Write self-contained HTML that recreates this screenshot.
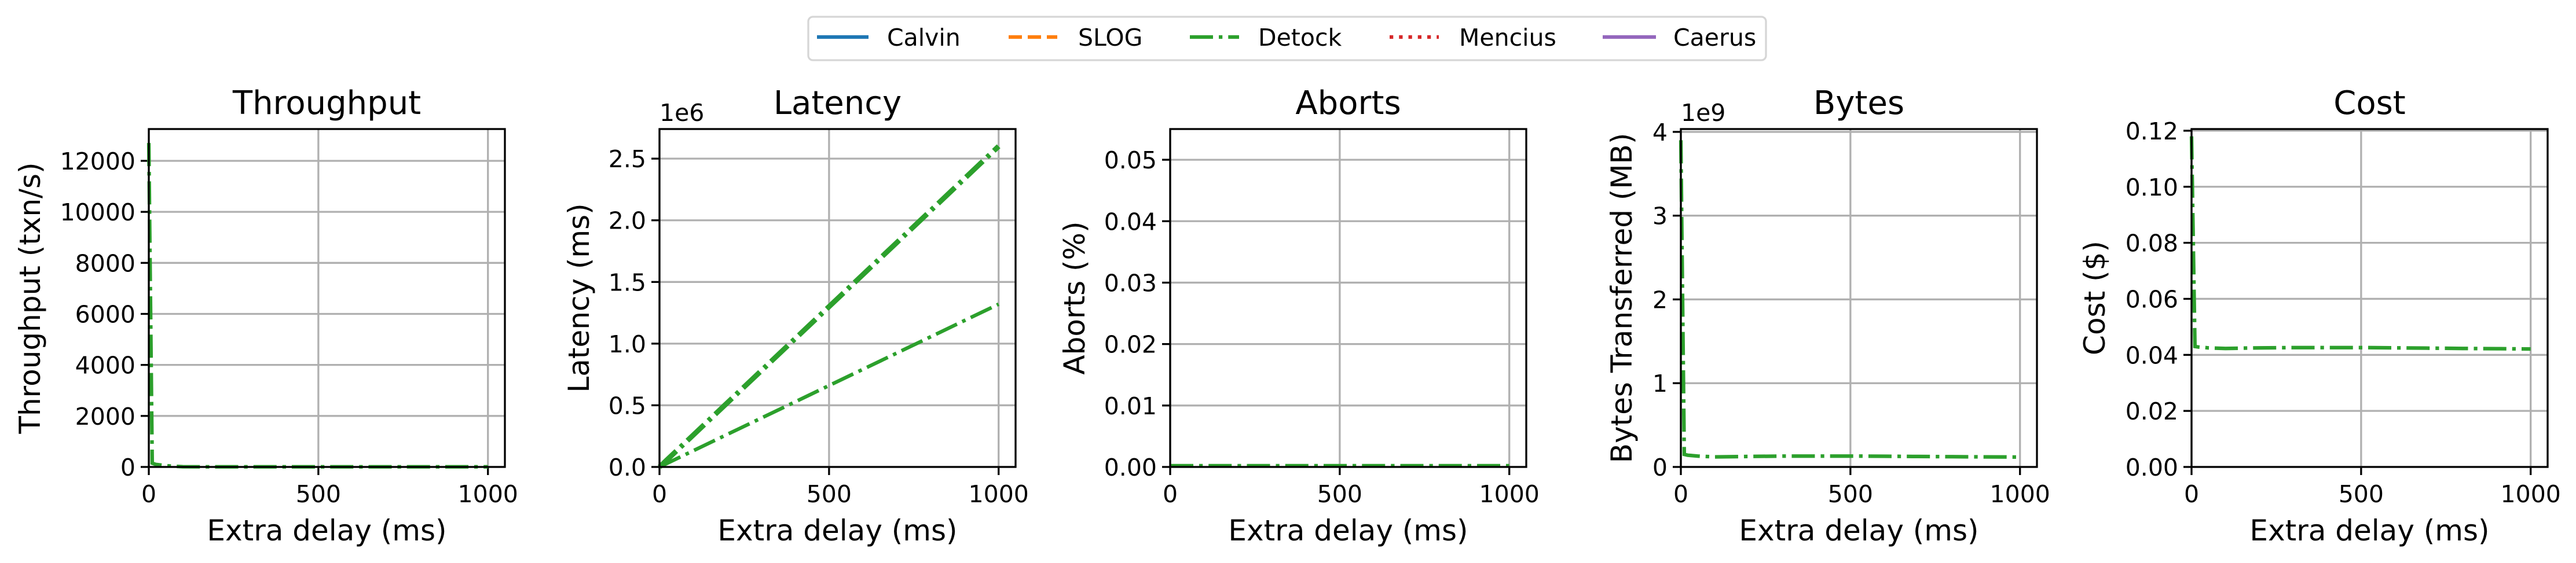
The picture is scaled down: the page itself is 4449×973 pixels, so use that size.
<!DOCTYPE html>
<html><head><meta charset="utf-8"><style>
html,body{margin:0;padding:0;background:#fff;}
svg{display:block;font-family:"DejaVu Sans","Liberation Sans",sans-serif;}
</style></head><body>
<svg id="fig" width="4449" height="973" viewBox="0 0 4449 973" xmlns="http://www.w3.org/2000/svg">
<g id="legend">
<rect x="1396" y="29" width="1654" height="75" rx="8" fill="#fff" stroke="#d6d6d6" stroke-width="3.3"/>
<g><line x1="1411" y1="64" x2="1500" y2="64" stroke="#1f77b4" stroke-width="6.25"/><text x="1532" y="79" font-size="41">Calvin</text></g>
<g><line x1="1742" y1="64" x2="1826" y2="64" stroke="#ff7f0e" stroke-width="6.25" stroke-dasharray="23 10"/><text x="1862" y="79" font-size="41">SLOG</text></g>
<g><line x1="2055" y1="64" x2="2140" y2="64" stroke="#2ca02c" stroke-width="6.25" stroke-dasharray="40 10 6.25 10"/><text x="2173" y="79" font-size="41">Detock</text></g>
<g><line x1="2400" y1="64" x2="2485" y2="64" stroke="#d62728" stroke-width="6.25" stroke-dasharray="6.25 10"/><text x="2520" y="79" font-size="41">Mencius</text></g>
<g><line x1="2768" y1="64" x2="2860" y2="64" stroke="#9467bd" stroke-width="6.25"/><text x="2890" y="79" font-size="41">Caerus</text></g>
</g>
</svg>
<script>
const xValues=[0,10,20,50,100,200,300,400,500,600,700,800,900,1000];
const xTicks=[0,500,1000];
const tputDetock=[12700,150,100,50,10,5,5,5,5,5,5,5,5,5];
const latDetockA=[0,26000,52000,130000,260000,520000,780000,1040000,1300000,1560000,1820000,2080000,2340000,2600000];
const latDetockB=[0,13200,26400,66000,132000,264000,396000,528000,660000,792000,924000,1056000,1188000,1320000];
const abortsDetock=[0.0002,0.0002,0.0002,0.0002,0.0002,0.0002,0.0002,0.0002,0.0002,0.0002,0.0002,0.0002,0.0002,0.0002];
const bytesDetock=[3.9e9,1.5e8,1.4e8,1.3e8,1.2e8,1.25e8,1.3e8,1.3e8,1.3e8,1.28e8,1.25e8,1.22e8,1.2e8,1.18e8];
const costDetock=[0.118,0.043,0.0428,0.0425,0.0423,0.0425,0.0426,0.0426,0.0426,0.0425,0.0424,0.0423,0.0422,0.0421];
const tputTicks=[0,2000,4000,6000,8000,10000,12000];
const latTicks=[0,0.5e6,1e6,1.5e6,2e6,2.5e6];
const abortTicks=[0,0.01,0.02,0.03,0.04,0.05];
const bytesTicks=[0,1e9,2e9,3e9,4e9];
const costTicks=[0,0.02,0.04,0.06,0.08,0.10,0.12];

const NS="http://www.w3.org/2000/svg";
const svg=document.getElementById('fig');
function mk(tag,attrs,parent,txt){const e=document.createElementNS(NS,tag);for(const k in attrs)e.setAttribute(k,attrs[k]);if(txt!==undefined)e.textContent=txt;parent.appendChild(e);return e;}
const panels=[
 {name:'throughput',title:'Throughput',ylabel:'Throughput (txn/s)',ymax:13247,ticks:tputTicks,fmt:v=>String(v),series:[tputDetock],widths:[6.25],loff:205},
 {name:'latency',title:'Latency',ylabel:'Latency (ms)',ymax:2.74e6,ticks:latTicks,fmt:v=>(v/1e6).toFixed(1),series:[latDetockA,latDetockB],widths:[9,6.25],loff:139,exp:'1e6'},
 {name:'aborts',title:'Aborts',ylabel:'Aborts (%)',ymax:0.055,ticks:abortTicks,fmt:v=>v.toFixed(2),series:[abortsDetock],widths:[6.25],loff:165},
 {name:'bytes',title:'Bytes',ylabel:'Bytes Transferred (MB)',ymax:4.034e9,ticks:bytesTicks,fmt:v=>String(v/1e9),series:[bytesDetock],widths:[6.25],loff:102,exp:'1e9'},
 {name:'cost',title:'Cost',ylabel:'Cost ($)',ymax:0.1206,ticks:costTicks,fmt:v=>v.toFixed(2),series:[costDetock],widths:[6.25],loff:167}
];
const T=223,B=807,W=615,XMAX=1050;
panels.forEach((p,i)=>{
 const L=257+882*i,R=L+W;
 const xs=v=>L+v/XMAX*W, ys=v=>B-v/p.ymax*(B-T);
 const g=mk('g',{},svg);
 
 
 xTicks.forEach(t=>{
  const gl=mk('line',{x1:xs(t),x2:xs(t),y1:T,y2:B,stroke:'#b0b0b0','stroke-width':3.3},g);
  
  
  mk('line',{x1:xs(t),x2:xs(t),y1:B,y2:B+14,stroke:'#000','stroke-width':3.3},g);
  const tl=mk('text',{x:xs(t),y:B+61,'font-size':41,'text-anchor':'middle'},g,String(t));
  
  
 });
 p.ticks.forEach(t=>{
  const y=ys(t);
  const gl=mk('line',{x1:L,x2:R,y1:y,y2:y,stroke:'#b0b0b0','stroke-width':3.3},g);
  
  
  mk('line',{x1:L-14,x2:L,y1:y,y2:y,stroke:'#000','stroke-width':3.3},g);
  const tl=mk('text',{x:L-23,y:y+15,'font-size':41,'text-anchor':'end'},g,p.fmt(t));
  
  
 });
 p.series.forEach((s,k)=>{
  const d=s.map((v,j)=>(j?'L':'M')+xs(xValues[j]).toFixed(1)+' '+ys(v).toFixed(1)).join(' ');
  const ln=mk('path',{d:d,fill:'none',stroke:'#2ca02c','stroke-width':p.widths[k],'stroke-dasharray':'40 10 6.25 10'},g);
  
  
 });
 const fr=mk('rect',{x:L,y:T,width:W,height:B-T,fill:'none',stroke:'#000','stroke-width':3.3},g);
 
 
 const tt=mk('text',{x:L+W/2,y:197,'font-size':56,'text-anchor':'middle'},g,p.title);
 
 
 const xl=mk('text',{x:L+W/2,y:934,'font-size':50,'text-anchor':'middle'},g,'Extra delay (ms)');
 
 
 const cx=L-p.loff, cy=(T+B)/2;
 const yl=mk('text',{x:cx,y:cy,'font-size':50,'text-anchor':'middle','dominant-baseline':'central',transform:'rotate(-90 '+cx+' '+cy+')'},g,p.ylabel);
 
 
 if(p.exp){
  const ex=mk('text',{x:L,y:209,'font-size':41},g,p.exp);
  
  
 }
});
</script>
</body></html>
